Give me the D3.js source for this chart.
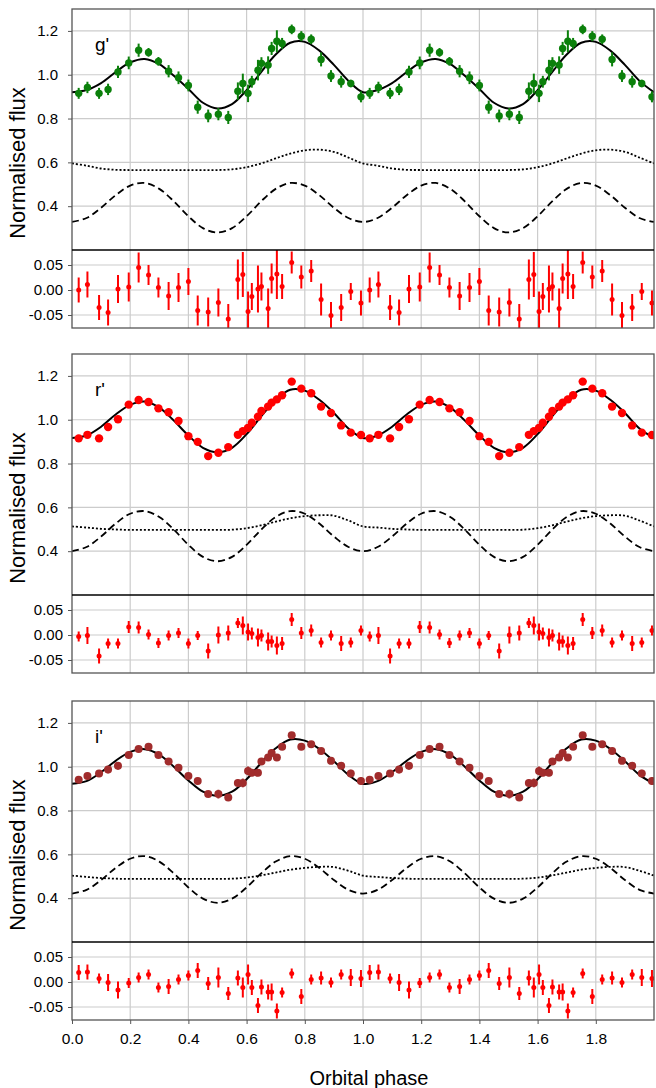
<!DOCTYPE html>
<html>
<head>
<meta charset="utf-8">
<script src="https://cdn.jsdelivr.net/npm/d3@7"></script>
<style>
	body { margin: 0; background: #fff; }
	text { font-family: Arial, "Liberation Sans", sans-serif; }
</style>
</head>
<body>
<svg id="chart" width="656" height="1088"></svg>
<script>
////////////////////////////////////////////////////////////
//// Data //////////////////////////////////////////////////
////////////////////////////////////////////////////////////
// observed orbital phases (one cycle, plotted twice)
const phase = [0.023, 0.053, 0.093, 0.124, 0.158, 0.195, 0.229, 0.263, 0.297, 0.332, 0.366, 0.400, 0.432, 0.468, 0.503, 0.537, 0.570,
	0.587, 0.605, 0.618, 0.639, 0.651, 0.674, 0.686, 0.704, 0.722, 0.755, 0.788, 0.822, 0.856, 0.890, 0.925, 0.958, 0.993];

const gFlux = [0.915, 0.942, 0.915, 0.933, 1.013, 1.054, 1.112, 1.102, 1.061, 1.016, 0.986, 0.951, 0.852, 0.812, 0.820, 0.805, 0.925,
	0.960, 0.915, 0.968, 1.021, 1.052, 1.044, 1.120, 1.153, 1.143, 1.207, 1.176, 1.162, 1.070, 0.994, 0.968, 0.960, 0.899];
const gResid = [0.000, 0.011, -0.035, -0.045, 0.002, 0.006, 0.045, 0.030, 0.005, -0.012, 0.005, 0.017, -0.041, -0.044, -0.025, -0.058, 0.021,
	0.031, -0.043, -0.013, 0.002, 0.007, -0.037, 0.023, 0.032, 0.007, 0.055, 0.026, 0.038, -0.019, -0.051, -0.035, -0.003, -0.026];
const gErr = [0.025, 0.026, 0.025, 0.026, 0.028, 0.029, 0.030, 0.020, 0.020, 0.028, 0.029, 0.027, 0.030, 0.029, 0.028, 0.030, 0.040,
	0.045, 0.040, 0.027, 0.047, 0.028, 0.040, 0.030, 0.050, 0.025, 0.022, 0.023, 0.022, 0.032, 0.027, 0.027, 0.017, 0.025];

const rFlux = [0.915, 0.931, 0.915, 0.967, 1.002, 1.069, 1.090, 1.081, 1.052, 1.034, 0.994, 0.925, 0.899, 0.834, 0.849, 0.875, 0.931,
	0.948, 0.963, 0.986, 1.014, 1.040, 1.060, 1.078, 1.093, 1.112, 1.174, 1.142, 1.121, 1.060, 1.031, 0.974, 0.941, 0.930];
const rResid = [-0.003, -0.001, -0.042, -0.017, -0.017, 0.016, 0.015, 0.001, -0.016, -0.001, 0.004, -0.017, -0.001, -0.032, 0.000, 0.004, 0.024,
	0.019, 0.006, 0.003, -0.005, -0.001, -0.013, -0.013, -0.021, -0.017, 0.031, 0.004, 0.009, -0.015, -0.001, -0.017, -0.015, 0.009];
const rErr = [0.010, 0.017, 0.015, 0.010, 0.010, 0.012, 0.012, 0.010, 0.010, 0.010, 0.010, 0.010, 0.009, 0.015, 0.017, 0.015, 0.010,
	0.018, 0.017, 0.012, 0.018, 0.012, 0.018, 0.012, 0.018, 0.013, 0.013, 0.012, 0.012, 0.010, 0.010, 0.015, 0.010, 0.010];

const iFlux = [0.941, 0.958, 0.969, 0.987, 1.004, 1.053, 1.081, 1.091, 1.053, 1.024, 0.995, 0.958, 0.935, 0.876, 0.875, 0.859, 0.926,
	0.926, 0.981, 0.972, 0.972, 1.024, 1.042, 1.063, 1.042, 1.091, 1.144, 1.091, 1.103, 1.072, 1.027, 1.004, 0.969, 0.935];
const iResid = [0.019, 0.020, 0.007, -0.001, -0.016, -0.002, 0.009, 0.015, -0.011, -0.009, 0.005, 0.013, 0.023, -0.003, 0.009, -0.023, 0.008,
	-0.011, 0.015, -0.011, -0.047, -0.010, -0.020, -0.020, -0.058, -0.021, 0.017, -0.029, 0.005, 0.008, -0.001, 0.015, 0.009, 0.007];
const iErr = [0.015, 0.015, 0.010, 0.017, 0.017, 0.010, 0.010, 0.010, 0.010, 0.015, 0.010, 0.010, 0.015, 0.013, 0.020, 0.013, 0.015,
	0.020, 0.020, 0.015, 0.015, 0.015, 0.015, 0.017, 0.015, 0.010, 0.010, 0.015, 0.010, 0.013, 0.010, 0.010, 0.017, 0.017];

// model curves, read every 0.05 in phase over one cycle
const modelPhase = [0, 0.05, 0.10, 0.15, 0.20, 0.25, 0.30, 0.35, 0.40, 0.45, 0.50, 0.55, 0.60, 0.65, 0.70, 0.75, 0.80, 0.85, 0.90, 0.95, 1.00];
const gTotal  = [0.920, 0.930, 0.962, 1.012, 1.056, 1.072, 1.048, 0.995, 0.935, 0.872, 0.846, 0.866, 0.930, 1.012, 1.092, 1.146, 1.150, 1.110, 1.045, 0.972, 0.920];
const gDotted = [0.595, 0.585, 0.572, 0.566, 0.565, 0.565, 0.565, 0.565, 0.565, 0.565, 0.565, 0.568, 0.578, 0.595, 0.618, 0.640, 0.655, 0.658, 0.648, 0.622, 0.595];
const gDashed = [0.328, 0.346, 0.393, 0.450, 0.494, 0.506, 0.479, 0.422, 0.354, 0.300, 0.280, 0.300, 0.354, 0.422, 0.479, 0.506, 0.494, 0.450, 0.393, 0.346, 0.328];
const rTotal  = [0.917, 0.928, 0.968, 1.024, 1.068, 1.083, 1.055, 0.996, 0.928, 0.872, 0.852, 0.872, 0.934, 1.015, 1.090, 1.137, 1.133, 1.091, 1.031, 0.960, 0.917];
const rDotted = [0.513, 0.508, 0.502, 0.499, 0.497, 0.497, 0.497, 0.497, 0.497, 0.497, 0.497, 0.498, 0.505, 0.518, 0.535, 0.550, 0.560, 0.564, 0.562, 0.540, 0.513];
const rDashed = [0.400, 0.419, 0.467, 0.526, 0.571, 0.583, 0.556, 0.498, 0.429, 0.374, 0.354, 0.374, 0.429, 0.498, 0.556, 0.583, 0.571, 0.526, 0.467, 0.419, 0.400];
const iTotal  = [0.922, 0.934, 0.975, 1.027, 1.068, 1.080, 1.055, 1.000, 0.937, 0.886, 0.867, 0.886, 0.943, 1.017, 1.084, 1.124, 1.119, 1.081, 1.025, 0.963, 0.922];
const iDotted = [0.503, 0.497, 0.492, 0.489, 0.488, 0.488, 0.488, 0.488, 0.488, 0.488, 0.488, 0.489, 0.494, 0.504, 0.517, 0.530, 0.538, 0.543, 0.542, 0.525, 0.503];
const iDashed = [0.421, 0.438, 0.483, 0.538, 0.580, 0.592, 0.567, 0.513, 0.449, 0.398, 0.379, 0.398, 0.449, 0.513, 0.567, 0.592, 0.580, 0.538, 0.483, 0.438, 0.421];

const bandNames = ["g'", "r'", "i'"];
const bandColors = ["#0b800b", "#ff0000", "#a12c2c"];
const cycles = [0, 1];
const phaseTicks = [0, 0.2, 0.4, 0.6, 0.8, 1.0, 1.2, 1.4, 1.6, 1.8];
const fluxTicks = [0.4, 0.6, 0.8, 1.0, 1.2];
const residTicks = [-0.05, 0, 0.05];

////////////////////////////////////////////////////////////
//// Setup /////////////////////////////////////////////////
////////////////////////////////////////////////////////////
const svg = d3.select("#chart");
const plotLeft = 72;
const plotRight = 654;
const mainHeight = 241;
const residHeight = 78;
const panelTops = [9, 354, 701];

const panels = [
	{ flux: gFlux, resid: gResid, err: gErr, total: gTotal, dotted: gDotted, dashed: gDashed, r: 3.7, mainErr: true },
	{ flux: rFlux, resid: rResid, err: rErr, total: rTotal, dotted: rDotted, dashed: rDashed, r: 4.2, mainErr: false },
	{ flux: iFlux, resid: iResid, err: iErr, total: iTotal, dotted: iDotted, dashed: iDashed, r: 4.0, mainErr: true }
];

const x = d3.scaleLinear().domain([0, 2]).range([plotLeft, plotRight]);

////////////////////////////////////////////////////////////
//// Render ////////////////////////////////////////////////
////////////////////////////////////////////////////////////
panels.forEach((p, k) => {
	const top = panelTops[k];
	const mid = top + mainHeight;
	const bottom = mid + residHeight;
	const color = bandColors[k];

	const yMain = d3.scaleLinear().domain([0.2, 1.3]).range([mid, top]);
	const yRes = d3.scaleLinear().domain([-0.076, 0.08]).range([bottom, mid]);

	const g = svg.append("g");

	// clip paths
	g.append("clipPath").attr("id", `clip-main-${k}`)
		.append("rect").attr("x", plotLeft).attr("y", top).attr("width", plotRight - plotLeft).attr("height", mainHeight);
	g.append("clipPath").attr("id", `clip-res-${k}`)
		.append("rect").attr("x", plotLeft).attr("y", mid).attr("width", plotRight - plotLeft).attr("height", residHeight);

	// grid
	const grid = g.append("g").attr("stroke", "#cccccc").attr("stroke-width", 1.2);
	grid.selectAll(".vgrid")
		.data(phaseTicks.filter(d => d > 0))
		.join("line")
		.attr("x1", d => x(d)).attr("x2", d => x(d))
		.attr("y1", top).attr("y2", bottom);
	grid.selectAll(".hgrid")
		.data(fluxTicks)
		.join("line")
		.attr("x1", plotLeft).attr("x2", plotRight)
		.attr("y1", d => yMain(d)).attr("y2", d => yMain(d));
	grid.selectAll(".rgrid")
		.data(residTicks)
		.join("line")
		.attr("x1", plotLeft).attr("x2", plotRight)
		.attr("y1", d => yRes(d)).attr("y2", d => yRes(d));

	// model curves, drawn over two cycles
	const modelPoints = values => cycles.flatMap(c =>
		modelPhase
			.map((ph, j) => [ph + c, values[j]])
			.filter((d, j) => c === 0 || j > 0)
	);
	const line = d3.line().x(d => x(d[0])).y(d => yMain(d[1])).curve(d3.curveCatmullRom);

	const curves = g.append("g")
		.attr("clip-path", `url(#clip-main-${k})`)
		.attr("fill", "none")
		.attr("stroke", "#000");
	curves.append("path")
		.attr("stroke-width", 1.8)
		.attr("stroke-dasharray", "2,2")
		.attr("d", line(modelPoints(p.dotted)));
	curves.append("path")
		.attr("stroke-width", 1.8)
		.attr("stroke-dasharray", "7,4")
		.attr("d", line(modelPoints(p.dashed)));
	curves.append("path")
		.attr("stroke-width", 2)
		.attr("d", line(modelPoints(p.total)));

	// observations, folded twice
	const obs = cycles.flatMap(c => phase.map((ph, j) => ({
		x: ph + c,
		flux: p.flux[j],
		resid: p.resid[j],
		err: p.err[j]
	})));

	const mainPts = g.append("g").attr("clip-path", `url(#clip-main-${k})`);
	if (p.mainErr) {
		mainPts.selectAll("line")
			.data(obs)
			.join("line")
			.attr("x1", d => x(d.x)).attr("x2", d => x(d.x))
			.attr("y1", d => yMain(d.flux - d.err)).attr("y2", d => yMain(d.flux + d.err))
			.attr("stroke", color)
			.attr("stroke-width", 2);
	}
	mainPts.selectAll("circle")
		.data(obs)
		.join("circle")
		.attr("cx", d => x(d.x))
		.attr("cy", d => yMain(d.flux))
		.attr("r", p.r)
		.attr("fill", color);

	const resPts = g.append("g").attr("clip-path", `url(#clip-res-${k})`);
	resPts.selectAll("line")
		.data(obs)
		.join("line")
		.attr("x1", d => x(d.x)).attr("x2", d => x(d.x))
		.attr("y1", d => yRes(d.resid - d.err)).attr("y2", d => yRes(d.resid + d.err))
		.attr("stroke", "#ff0000")
		.attr("stroke-width", 2);
	resPts.selectAll("circle")
		.data(obs)
		.join("circle")
		.attr("cx", d => x(d.x))
		.attr("cy", d => yRes(d.resid))
		.attr("r", 2.5)
		.attr("fill", "#ff0000");

	// frame
	g.append("rect")
		.attr("x", plotLeft).attr("y", top)
		.attr("width", plotRight - plotLeft).attr("height", bottom - top)
		.attr("fill", "none")
		.attr("stroke", "#555")
		.attr("stroke-width", 1.3);
	g.append("line")
		.attr("x1", plotLeft).attr("x2", plotRight)
		.attr("y1", mid).attr("y2", mid)
		.attr("stroke", "#000")
		.attr("stroke-width", 1.3);

	// axes
	g.append("g")
		.attr("transform", `translate(${plotLeft},0)`)
		.call(d3.axisLeft(yMain).tickValues(fluxTicks).tickFormat(d => d.toFixed(1)).tickSize(4).tickPadding(10))
		.call(a => a.select(".domain").remove())
		.call(a => a.selectAll("line").attr("stroke", "#555"))
		.call(a => a.selectAll("text").attr("font-size", 15).attr("font-family", null).attr("fill", "#000"));
	g.append("g")
		.attr("transform", `translate(${plotLeft},0)`)
		.call(d3.axisLeft(yRes).tickValues(residTicks).tickFormat(d => d.toFixed(2)).tickSize(4).tickPadding(5))
		.call(a => a.select(".domain").remove())
		.call(a => a.selectAll("line").attr("stroke", "#555"))
		.call(a => a.selectAll("text").attr("font-size", 15).attr("font-family", null).attr("fill", "#000"));

	// band label
	g.append("text")
		.attr("x", 95)
		.attr("y", top + 42)
		.attr("font-size", 19)
		.text(bandNames[k]);

	// y title
	g.append("text")
		.attr("transform", `translate(25,${top + 154}) rotate(-90)`)
		.attr("text-anchor", "middle")
		.attr("font-size", 22)
		.text("Normalised flux");

	if (k === panels.length - 1) {
		g.append("g")
			.attr("transform", `translate(0,${bottom})`)
			.call(d3.axisBottom(x).tickValues(phaseTicks).tickFormat(d => d.toFixed(1)).tickSize(4).tickPadding(9))
			.call(a => a.select(".domain").remove())
			.call(a => a.selectAll("line").attr("stroke", "#555"))
			.call(a => a.selectAll("text").attr("font-size", 15.5).attr("font-family", null).attr("fill", "#000"));
	}
});

svg.append("text")
	.attr("x", 369)
	.attr("y", 1085)
	.attr("text-anchor", "middle")
	.attr("font-size", 20)
	.text("Orbital phase");
</script>
</body>
</html>
